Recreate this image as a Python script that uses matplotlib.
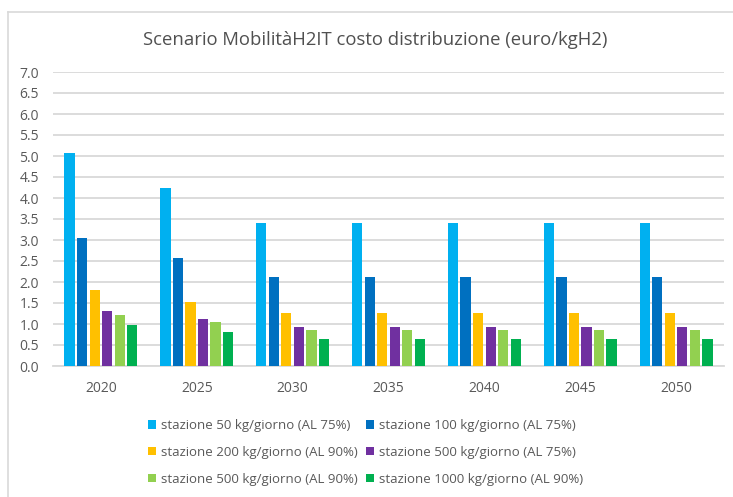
import matplotlib
matplotlib.use("Agg")
import matplotlib.pyplot as plt
from matplotlib.patches import Patch
from matplotlib.lines import Line2D
import numpy as np

plt.rcParams['font.family'] = ['Open Sans', 'DejaVu Sans']

years = ["2020", "2025", "2030", "2035", "2040", "2045", "2050"]
series_names = [
    "stazione 50 kg/giorno (AL 75%)",
    "stazione 100 kg/giorno (AL 75%)",
    "stazione 200 kg/giorno (AL 90%)",
    "stazione 500 kg/giorno (AL 75%)",
    "stazione 500 kg/giorno (AL 90%)",
    "stazione 1000 kg/giorno (AL 90%)",
]
st_50 = [5.06, 4.23, 3.41, 3.41, 3.41, 3.41, 3.41]
st_100 = [3.05, 2.58, 2.13, 2.13, 2.13, 2.13, 2.13]
st_200 = [1.81, 1.53, 1.27, 1.27, 1.27, 1.27, 1.27]
st_500_75 = [1.32, 1.12, 0.94, 0.94, 0.94, 0.94, 0.94]
st_500_90 = [1.22, 1.04, 0.86, 0.86, 0.86, 0.86, 0.86]
st_1000 = [0.98, 0.80, 0.64, 0.64, 0.64, 0.64, 0.64]
yticks = [0.0, 0.5, 1.0, 1.5, 2.0, 2.5, 3.0, 3.5, 4.0, 4.5, 5.0, 5.5, 6.0, 6.5, 7.0]

series = [st_50, st_100, st_200, st_500_75, st_500_90, st_1000]
colors = ["#00B0F0", "#0070C0", "#FFC000", "#7030A0", "#92D050", "#00B050"]

W, H = 733, 497
fig = plt.figure(figsize=(W / 100, H / 100), dpi=100)
ax = fig.add_axes([53 / W, 1 - 366 / H, (724 - 53) / W, (366 - 72) / H])

x = np.arange(len(years))
pitch = 0.131
width = 0.107
for i, (vals, col) in enumerate(zip(series, colors)):
    ax.bar(x + (i - 2.5) * pitch, vals, width=width, color=col, zorder=3,
           linewidth=0)

ax.set_xlim(-0.5, len(years) - 0.5)
ax.set_ylim(0, 7.0)
ax.set_yticks(yticks)
ax.set_yticklabels([f"{v:.1f}" for v in yticks])
ax.set_xticks(x)
ax.set_xticklabels(years)
ax.tick_params(axis='both', length=0, labelsize=10, labelcolor="#595959")
ax.tick_params(axis='x', pad=11)
ax.tick_params(axis='y', pad=10)
ax.yaxis.grid(True, color="#d9d9d9", linewidth=1.3, zorder=0)
ax.set_axisbelow(True)
for s in ["top", "right", "left"]:
    ax.spines[s].set_visible(False)
ax.spines["bottom"].set_color("#d9d9d9")
ax.spines["bottom"].set_linewidth(1.3)

fig.text(375 / W, 1 - 40 / H, "Scenario MobilitàH2IT costo distribuzione (euro/kgH2)",
         ha="center", va="center", fontsize=13.3, color="#505050")

handles = [Patch(facecolor=c, edgecolor="none") for c in colors]
order = [0, 2, 4, 1, 3, 5]
leg = fig.legend([handles[i] for i in order], [series_names[i] for i in order],
                 ncol=2, loc="upper left", bbox_to_anchor=(136 / W, 1 - 407 / H),
                 frameon=False, fontsize=9.5, handlelength=0.65, handleheight=0.65,
                 handletextpad=0.35, labelspacing=1.05, columnspacing=0.6)
for t in leg.get_texts():
    t.set_color("#595959")

# chart frame
fig.add_artist(Line2D([8 / W, 8 / W], [0, 1 - 12 / H], transform=fig.transFigure,
                      color="#d9d9d9", linewidth=1.2))
fig.add_artist(Line2D([8 / W, 1], [1 - 12 / H, 1 - 12 / H], transform=fig.transFigure,
                      color="#d9d9d9", linewidth=1.2))

fig.savefig("out.png", dpi=100, facecolor="white")
